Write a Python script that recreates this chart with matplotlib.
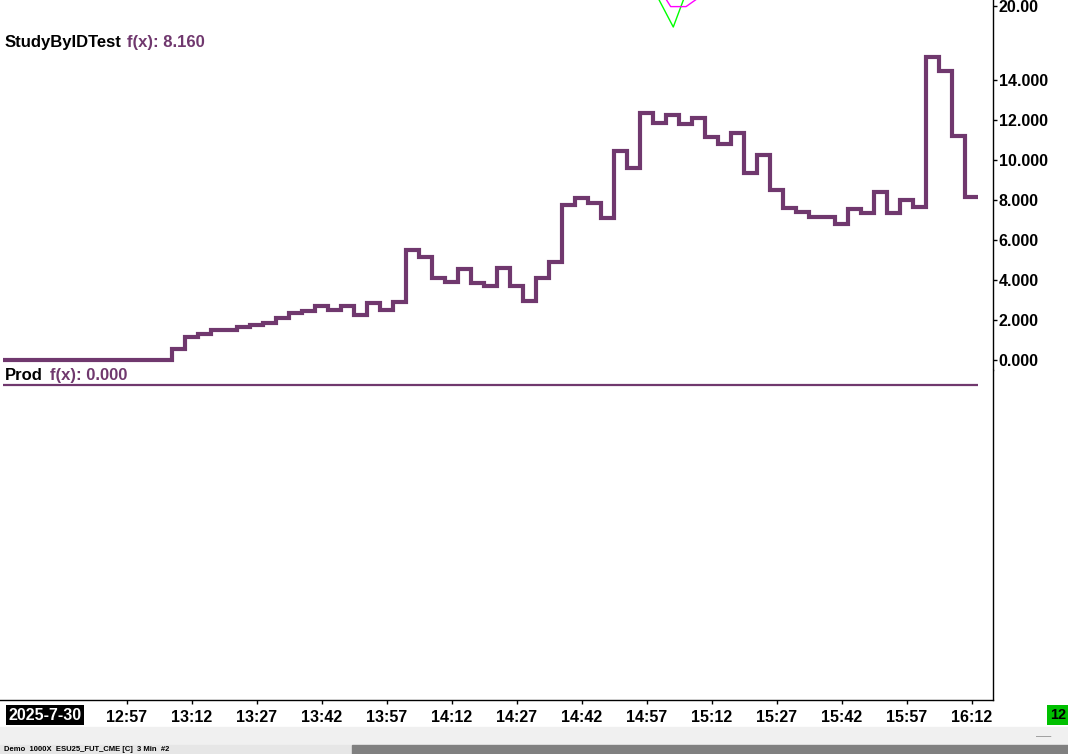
import numpy as np
import matplotlib
matplotlib.use("Agg")
import matplotlib.pyplot as plt
from matplotlib.patches import Rectangle

plt.rcParams["font.family"] = ["Liberation Sans", "DejaVu Sans"]

# 3-minute bars, first bar 12:30
start_time = "12:30"
bar_minutes = 3
study_values = [
    0, 0, 0, 0, 0, 0, 0, 0, 0, 0, 0, 0, 0,
    0.53, 1.17, 1.28, 1.50, 1.50, 1.67, 1.73, 1.87, 2.10, 2.37,
    2.43, 2.72, 2.48, 2.72, 2.25, 2.83, 2.50, 2.88, 5.50, 5.17,
    4.12, 3.92, 4.53, 3.83, 3.72, 4.58, 3.72, 2.97, 4.12, 4.92,
    7.75, 8.12, 7.83, 7.12, 10.47, 9.62, 12.33, 11.87, 12.23, 11.78,
    12.08, 11.13, 10.78, 11.33, 9.33, 10.25, 8.50, 7.62, 7.42, 7.13,
    7.13, 6.80, 7.53, 7.37, 8.38, 7.33, 8.00, 7.67, 15.13, 14.45,
    11.22, 8.16,
]
prod_values = [0.0] * len(study_values)

time_labels = ["12:57", "13:12", "13:27", "13:42", "13:57", "14:12", "14:27",
               "14:42", "14:57", "15:12", "15:27", "15:42", "15:57", "16:12"]
price_ticks = [0, 2, 4, 6, 8, 10, 12, 14]
date_label = "2025-7-30"

# cut-off marker drawn by another study at the top of the pane
green_x = [49.77, 51.06, 51.98]
green_y = [18.25, 16.65, 18.25]
magenta_x = [50.35, 50.86, 52.04, 53.2]
magenta_y = [18.2, 17.67, 17.67, 18.2]

PURPLE = "#70386e"
W, H = 1068, 754


def to_minutes(s):
    h, m = s.split(":")
    return int(h) * 60 + int(m)


def main():
    fig = plt.figure(figsize=(W / 100, H / 100), dpi=100)
    fig.patch.set_facecolor("white")

    right = 993 / W
    ax_top = fig.add_axes([0, 1 - 370 / H, right, 370 / H])
    ax_bot = fig.add_axes([0, 1 - 700 / H, right, 330 / H], sharex=ax_top)

    n = len(study_values)
    edges = np.arange(n + 1) - 0.5
    ax_top.stairs(study_values, edges, color=PURPLE, lw=3, baseline=None)
    ax_top.plot(green_x, green_y, color="#00ff00", lw=1)
    ax_top.plot(magenta_x, magenta_y, color="#ff00ff", lw=1)
    ax_bot.stairs(prod_values, edges, color=PURPLE, lw=1.6, baseline=None)

    ax_top.set_xlim(-9.5 / 13, (993 - 9.5) / 13)
    ax_top.set_ylim(-0.5, 18.0)
    ax_bot.set_ylim(-21, 1)

    for ax in (ax_top, ax_bot):
        for side in ("left", "top"):
            ax.spines[side].set_visible(False)
        ax.spines["right"].set_color("black")
        ax.spines["right"].set_linewidth(1)
        ax.set_facecolor("white")
    ax_top.spines["bottom"].set_visible(False)
    ax_bot.spines["bottom"].set_linewidth(1)

    # price scale on the right
    ax_top.yaxis.tick_right()
    ax_top.set_yticks(price_ticks, labels=[f"{v:.3f}" for v in price_ticks])
    ax_top.set_yticks([17.7], labels=["20.00"], minor=True)
    ax_top.tick_params(axis="y", which="both", length=3, width=1, pad=1,
                       labelsize=11.5, direction="out")
    for lab in ax_top.get_yticklabels(which="both"):
        lab.set_fontweight("bold")
    ax_bot.set_yticks([])
    ax_top.tick_params(axis="x", bottom=False, labelbottom=False)

    # time scale
    t0 = to_minutes(start_time)
    tick_pos = [(to_minutes(t) - t0) / bar_minutes for t in time_labels]
    ax_bot.set_xticks(tick_pos, labels=time_labels)
    ax_bot.tick_params(axis="x", length=3, width=1, pad=4, labelsize=11.5)
    for lab in ax_bot.get_xticklabels():
        lab.set_fontweight("bold")

    fig.text(45 / W, 1 - 715 / H, date_label, ha="center", va="center",
             fontsize=11.5, fontweight="bold", color="white",
             bbox=dict(boxstyle="square,pad=0.15", fc="black", ec="none"))

    # study name / value headers
    fig.text(5 / W, 1 - 42 / H, "StudyByIDTest", ha="left", va="center",
             fontsize=12, fontweight="bold", color="black")
    fig.text(127 / W, 1 - 42 / H, f"f(x): {study_values[-1]:.3f}", ha="left",
             va="center", fontsize=12, fontweight="bold", color=PURPLE)
    fig.text(5 / W, 1 - 375 / H, "Prod", ha="left", va="center",
             fontsize=12, fontweight="bold", color="black")
    fig.text(50 / W, 1 - 375 / H, f"f(x): {prod_values[-1]:.3f}", ha="left",
             va="center", fontsize=12, fontweight="bold", color=PURPLE)

    # window chrome at the bottom
    fig.patches.append(Rectangle((0, 1 - 745 / H), 1, 18 / H, color="#f0f0f0",
                                 transform=fig.transFigure, zorder=0))
    fig.patches.append(Rectangle((0, 0), 352 / W, 9 / H, color="#e6e6e6",
                                 transform=fig.transFigure, zorder=0))
    fig.patches.append(Rectangle((352 / W, 0), 1, 9 / H, color="#808080",
                                 transform=fig.transFigure, zorder=0))
    fig.text(4 / W, 1 - 746 / H, "Demo  1000X  ESU25_FUT_CME [C]  3 Min  #2",
             ha="left", va="top", fontsize=5.5, fontweight="bold", color="black")
    fig.text(1050 / W, 1 - 715 / H, "12", ha="left", va="center",
             fontsize=10.5, fontweight="bold", color="black",
             bbox=dict(boxstyle="square,pad=0.2", fc="#00c000", ec="none"))
    fig.text(1044 / W, 1 - 736 / H, "\u2014", ha="center", va="center",
             fontsize=11, color="#a0a0a0")

    fig.savefig("out.png", dpi=100)


if __name__ == "__main__":
    main()
